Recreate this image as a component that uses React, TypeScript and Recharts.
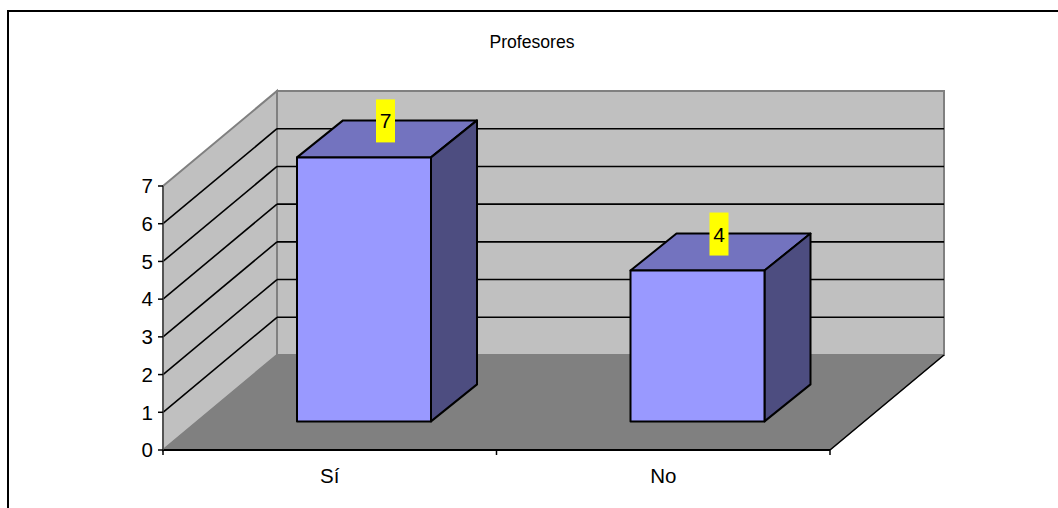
import { Bar, BarChart, LabelList, XAxis, YAxis, usePlotArea } from "recharts";

const title = "Profesores";
const categories = ["Sí", "No"];
const values = [7, 4];
const yTicks = [0, 1, 2, 3, 4, 5, 6, 7];

const data = categories.map((name, i) => ({ name, value: values[i] }));

const FONT = "'Liberation Sans', Arial, sans-serif";
const yMax = yTicks[yTicks.length - 1];

// oblique depth of the chart box and of the bars
const WALL_DX = 114;
const WALL_DY = 95;
const BAR_DX = 46;
const BAR_DY = 37;
const BAR_SHIFT_X = 34;
const BAR_SHIFT_Y = 28.6;

function Walls() {
  const plot = usePlotArea();
  if (!plot) return null;
  const { x, y, width, height } = plot;
  const yOf = (v: number) => y + height * (1 - v / yMax);
  const bottom = y + height;
  const right = x + width;
  const poly = (pts: number[][]) => pts.map((p) => p.join(",")).join(" ");
  return (
    <g>
      <polygon
        points={poly([
          [x, y],
          [x + WALL_DX, y - WALL_DY],
          [x + WALL_DX, bottom - WALL_DY],
          [x, bottom],
        ])}
        fill="#c0c0c0"
        stroke="#808080"
        strokeWidth={2}
      />
      <polygon
        points={poly([
          [x + WALL_DX, y - WALL_DY],
          [right + WALL_DX, y - WALL_DY],
          [right + WALL_DX, bottom - WALL_DY],
          [x + WALL_DX, bottom - WALL_DY],
        ])}
        fill="#c0c0c0"
        stroke="#808080"
        strokeWidth={2}
      />
      <polygon
        points={poly([
          [x, bottom],
          [x + WALL_DX, bottom - WALL_DY],
          [right + WALL_DX, bottom - WALL_DY],
          [right, bottom],
        ])}
        fill="#808080"
        stroke="#808080"
        strokeWidth={1}
      />
      <line x1={right} y1={bottom} x2={right + WALL_DX} y2={bottom - WALL_DY} stroke="#000" strokeWidth={1.6} />
      {yTicks.slice(1, -1).map((t) => (
        <g key={t}>
          <line x1={x} y1={yOf(t)} x2={x + WALL_DX} y2={yOf(t) - WALL_DY} stroke="#000" strokeWidth={1.6} />
          <line
            x1={x + WALL_DX}
            y1={yOf(t) - WALL_DY}
            x2={right + WALL_DX}
            y2={yOf(t) - WALL_DY}
            stroke="#000"
            strokeWidth={1.6}
          />
        </g>
      ))}
      {/* ticks sit on the category boundaries */}
      {[0, 1, 2].map((i) => {
        const tx = x + (i * width) / categories.length;
        return <line key={i} x1={tx} y1={bottom} x2={tx} y2={bottom + 5} stroke="#000" strokeWidth={1.5} />;
      })}
      <text x={532} y={48} textAnchor="middle" fontFamily={FONT} fontSize={17.6} fill="#000">
        {title}
      </text>
    </g>
  );
}

function Box3D(props: any) {
  const { x, y, width, height } = props;
  const l = x + BAR_SHIFT_X;
  const r = l + width;
  const t = y - BAR_SHIFT_Y;
  const b = t + height;
  const line = { stroke: "#000", strokeWidth: 2, strokeLinejoin: "round" as const };
  return (
    <g>
      <polygon
        points={`${l},${t} ${l + BAR_DX},${t - BAR_DY} ${r + BAR_DX},${t - BAR_DY} ${r},${t}`}
        fill="#7373bf"
        {...line}
      />
      <polygon
        points={`${r},${t} ${r + BAR_DX},${t - BAR_DY} ${r + BAR_DX},${b - BAR_DY} ${r},${b}`}
        fill="#4d4d80"
        {...line}
      />
      <rect x={l} y={t} width={width} height={height} fill="#9999ff" {...line} />
    </g>
  );
}

function ValueLabel(props: any) {
  const { x, y, width, value } = props;
  const cx = x + BAR_SHIFT_X + width / 2 + 21.5;
  const cy = y - BAR_SHIFT_Y - BAR_DY + 0.5;
  return (
    <g>
      <rect x={cx - 9.5} y={cy - 21.5} width={19} height={43} fill="#ffff00" />
      <text x={cx} y={cy + 7.5} textAnchor="middle" fontFamily={FONT} fontSize={21} fill="#000">
        {value}
      </text>
    </g>
  );
}

export default function App() {
  return (
    <div style={{ position: "absolute", left: 0, top: 0, width: 1058, height: 508, background: "#fff", overflow: "hidden" }}>
      <div
        style={{
          position: "absolute",
          left: 7,
          top: 10,
          right: 0,
          bottom: 0,
          borderTop: "2px solid #000",
          borderLeft: "2px solid #000",
        }}
      />
      <div style={{ position: "absolute", left: 0, top: 0 }}>
        <BarChart
          width={1058}
          height={508}
          data={data}
          margin={{ top: 186, right: 228, bottom: 0, left: 0 }}
          barSize={134}
          style={{ overflow: "visible" }}
        >
          <Walls />
          <XAxis
            dataKey="name"
            height={58}
            axisLine={{ stroke: "#000", strokeWidth: 2 }}
            tickLine={false}
            tickMargin={12}
            tick={{ fontFamily: FONT, fontSize: 20.5, fill: "#000" }}
          />
          <YAxis
            width={163}
            domain={[0, yMax]}
            ticks={yTicks}
            interval={0}
            axisLine={{ stroke: "#444", strokeWidth: 1.5 }}
            tickLine={{ stroke: "#000", strokeWidth: 1.5 }}
            tickSize={5}
            tickMargin={5}
            tick={{ fontFamily: FONT, fontSize: 20.5, fill: "#000" }}
          />
          <Bar dataKey="value" isAnimationActive={false} shape={<Box3D />}>
            <LabelList dataKey="value" content={<ValueLabel />} />
          </Bar>
        </BarChart>
      </div>
    </div>
  );
}
